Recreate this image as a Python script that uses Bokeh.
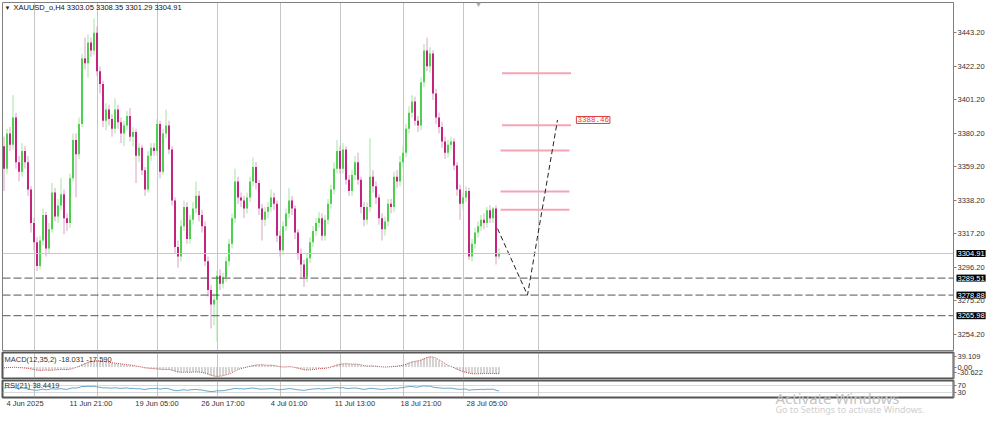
from bokeh.plotting import figure
from bokeh.models import Range1d, FixedTicker, Span, Label, ColumnDataSource, NumeralTickFormatter
from bokeh.layouts import column
from bokeh.embed import file_html
from bokeh.resources import INLINE

# ---------------- data ----------------
symbol_title = "XAUUSD_o,H4  3303.05 3308.35 3301.29 3304.91"
first_open = 3372.0
close = [
    3358, 3380, 3373, 3390, 3362, 3356, 3369, 3362, 3345, 3324,
    3312, 3297, 3313, 3329, 3308, 3320, 3343, 3328, 3335, 3342,
    3327, 3324, 3352, 3376, 3367, 3386, 3427, 3424, 3437, 3432,
    3443, 3419, 3411, 3388, 3395, 3389, 3383, 3395, 3387, 3380,
    3385, 3391, 3378, 3381, 3366, 3371, 3357, 3345, 3366, 3371,
    3369, 3386, 3356, 3380, 3385, 3370, 3338, 3309, 3303, 3322,
    3334, 3314, 3326, 3333, 3341, 3329, 3322, 3300, 3282, 3273,
    3276, 3291, 3286, 3290, 3300, 3311, 3327, 3350, 3340, 3338,
    3333, 3340, 3350, 3359, 3349, 3333, 3326, 3331, 3334, 3340,
    3336, 3316, 3307, 3322, 3330, 3338, 3333, 3318, 3305, 3298,
    3290, 3302, 3312, 3319, 3324, 3327, 3316, 3326, 3336, 3345,
    3358, 3369, 3358, 3370, 3351, 3344, 3354, 3362, 3351, 3334,
    3326, 3334, 3353, 3347, 3340, 3327, 3320, 3325, 3336, 3334,
    3353, 3350, 3362, 3368, 3383, 3393, 3400, 3388, 3385, 3412,
    3432, 3422, 3430, 3405, 3390, 3384, 3375, 3368, 3373, 3375,
    3360, 3345, 3336, 3340, 3344, 3303, 3311, 3318, 3322, 3326,
    3324, 3332, 3327, 3333, 3303.05, 3304.91]
high = [
    3378, 3383, 3384, 3404, 3393, 3366, 3374, 3372, 3366, 3347,
    3327, 3315, 3316, 3333, 3331, 3324, 3349, 3346, 3339, 3352,
    3345, 3330, 3355, 3380, 3380, 3390, 3430, 3440, 3442, 3440,
    3452, 3447, 3422, 3413, 3399, 3398, 3392, 3402, 3398, 3390,
    3388, 3394, 3396, 3384, 3383, 3374, 3373, 3359, 3369, 3374,
    3374, 3389, 3388, 3383, 3395, 3388, 3372, 3340, 3313, 3326,
    3338, 3337, 3329, 3337, 3350, 3344, 3332, 3325, 3303, 3285,
    3280, 3294, 3295, 3293, 3303, 3314, 3330, 3358, 3353, 3343,
    3341, 3343, 3353, 3365, 3362, 3351, 3336, 3334, 3337, 3345,
    3343, 3338, 3319, 3325, 3333, 3346, 3341, 3335, 3320, 3308,
    3301, 3305, 3315, 3322, 3327, 3331, 3330, 3329, 3339, 3348,
    3362, 3376, 3372, 3374, 3372, 3354, 3357, 3366, 3368, 3353,
    3337, 3337, 3377, 3357, 3350, 3342, 3330, 3328, 3339, 3339,
    3356, 3357, 3366, 3372, 3386, 3397, 3404, 3403, 3391, 3415,
    3436, 3440, 3434, 3432, 3408, 3393, 3387, 3378, 3376, 3378,
    3377, 3362, 3348, 3343, 3347, 3346, 3314, 3321, 3325, 3329,
    3330, 3334, 3335, 3334, 3335, 3308.35]
low = [
    3344, 3355, 3369, 3370, 3358, 3350, 3353, 3358, 3341, 3318,
    3307, 3294, 3295, 3310, 3303, 3305, 3318, 3325, 3324, 3332,
    3317, 3319, 3321, 3350, 3340, 3364, 3384, 3420, 3415, 3428,
    3429, 3416, 3405, 3384, 3382, 3385, 3378, 3380, 3383, 3374,
    3372, 3382, 3375, 3372, 3349, 3362, 3354, 3341, 3343, 3363,
    3366, 3366, 3352, 3354, 3377, 3367, 3335, 3305, 3296, 3300,
    3319, 3311, 3311, 3323, 3330, 3325, 3318, 3297, 3278, 3258,
    3260, 3250, 3282, 3283, 3287, 3297, 3308, 3324, 3336, 3334,
    3327, 3330, 3337, 3347, 3345, 3329, 3313, 3322, 3327, 3331,
    3332, 3312, 3303, 3304, 3319, 3327, 3329, 3314, 3301, 3290,
    3284, 3287, 3299, 3309, 3316, 3321, 3313, 3313, 3323, 3333,
    3342, 3355, 3355, 3355, 3348, 3341, 3341, 3351, 3348, 3330,
    3322, 3323, 3331, 3343, 3336, 3323, 3313, 3316, 3322, 3330,
    3331, 3346, 3347, 3359, 3365, 3380, 3390, 3385, 3381, 3382,
    3409, 3419, 3418, 3401, 3386, 3380, 3371, 3364, 3365, 3370,
    3357, 3341, 3326, 3332, 3337, 3301, 3300, 3308, 3315, 3319,
    3320, 3321, 3324, 3324, 3298, 3301.29]

macd_main = [
    -2, -1, -1, 0, -1, -2, -2, -3, -4, -6, -7,
    -9, -9, -8, -8, -9, -8, -7, -7, -6, -7, -7, -5,
    -2, 0, 3, 8, 11, 14, 15, 17, 17,
    17, 15, 14, 12, 11, 10, 9, 8, 7, 6, 5,
    4, 2, 1, -1, -3, -3, -4, -5, -5, -6, -7, -6,
    -7, -9, -12, -14, -14, -13, -14, -14, -13, -13, -14, -15, -17, -20, -23, -25, -25,
    -24, -22, -20, -17, -13, -8, -5, -3, -1, 1, 3, 5, 6, 6,
    6, 5, 5, 5, 4, 2, 0, 0, 1, 1, 0, -2, -4, -6, -8, -8, -7,
    -6, -5, -4, -4, -3, -1, 1, 4, 7, 8, 9, 9, 8,
    8, 8, 7, 5, 3, 3, 3, 3, 2, 1, 0, 0,
    1, 1, 2, 3, 4, 6, 9, 12, 15, 16, 17, 20, 24, 27,
    28, 26, 22, 17, 12, 7, 3, 0, -3, -7, -11, -13, -15, -17,
    -18, -18, -18, -17, -17, -17, -17, -17, -18, -18.031]
macd_signal = [
    -2, -1.5, -1, -0.5, -0.5, -1.5, -2, -2.5, -3.5, -5, -6.5,
    -8, -9, -8.5, -8, -8.5, -8.5, -7.5, -7, -6.5, -6.5, -7, -6,
    -3.5, -1, 1.5, 5.5, 9.5, 12.5, 14.5, 16, 17,
    17, 16, 14.5, 13, 11.5, 10.5, 9.5, 8.5, 7.5, 6.5, 5.5,
    4.5, 3, 1.5, 0, -2, -3, -3.5, -4.5, -5, -5.5, -6.5, -6.5,
    -6.5, -8, -10.5, -13, -14, -13.5, -13.5, -14, -13.5, -13, -13.5, -14.5, -16, -18.5, -21.5, -24, -25,
    -24.5, -23, -21, -18.5, -15, -10.5, -6.5, -4, -2, 0, 2, 4, 5.5, 6,
    6, 5.5, 5, 5, 4.5, 3, 1, 0, 0.5, 1, 0.5, -1, -3, -5, -7, -8, -7.5,
    -6.5, -5.5, -4.5, -4, -3.5, -2, 0, 2.5, 5.5, 7.5, 8.5, 9, 8.5,
    8, 8, 7.5, 6, 4, 3, 3, 3, 2.5, 1.5, 0.5, 0,
    0.5, 1, 1.5, 2.5, 3.5, 5, 7.5, 10.5, 13.5, 15.5, 16.5, 18.5, 22, 25.5,
    27.5, 27, 24, 19.5, 14.5, 9.5, 5, 1.5, -1.5, -5, -9, -12, -14, -16,
    -17.5, -18, -18, -17.5, -17, -17, -17, -17, -17.5, -17.59]
rsi = [
    55, 58, 57, 60, 54, 53, 56, 54, 50, 46,
    44, 42, 46, 49, 45, 48, 52, 49, 50, 52,
    49, 48, 53, 57, 55, 59, 65, 64, 66, 65,
    67, 62, 60, 56, 57, 56, 55, 57, 55, 54,
    55, 56, 53, 54, 51, 52, 49, 47, 51, 52,
    52, 55, 49, 53, 54, 51, 45, 41, 40, 44,
    46, 42, 45, 46, 48, 45, 44, 40, 37, 35,
    36, 40, 39, 40, 43, 46, 50, 54, 52, 51,
    50, 52, 54, 56, 53, 50, 49, 50, 51, 52,
    51, 47, 45, 48, 50, 52, 51, 48, 45, 44,
    42, 45, 48, 50, 51, 52, 49, 51, 53, 55,
    57, 59, 56, 58, 54, 53, 55, 56, 54, 50,
    48, 50, 54, 53, 51, 49, 48, 49, 52, 51,
    55, 54, 57, 58, 62, 64, 65, 62, 61, 66,
    69, 66, 67, 61, 58, 57, 55, 54, 55, 55,
    52, 49, 48, 49, 50, 43, 45, 46, 47, 48,
    47, 49, 48, 49, 43, 38.4419]

price_ticks = [3254.20, 3275.20, 3296.20, 3317.20, 3338.20, 3359.20, 3380.20, 3401.20, 3422.20, 3443.20]
time_tick_bars = [0, 22, 44, 66, 88, 110, 132, 154]
time_tick_labels = ["4 Jun 2025", "11 Jun 21:00", "19 Jun 05:00", "26 Jun 17:00",
                    "4 Jul 01:00", "11 Jul 13:00", "18 Jul 21:00", "28 Jul 05:00"]
separator_bars = [10, 31, 51, 71, 92, 112, 133, 153, 178]
current_price = 3304.91
support_levels = [3289.51, 3278.88, 3265.98]
target_levels = [3417.7, 3385.2, 3369.4, 3343.7, 3332.2]
target_start = [166, 166, 165.5, 165.5, 165.5]
target_end = [189, 189, 188.5, 188.5, 188.5]
projection_x = [164.5, 174.5, 184.5]
projection_y = [3320.5, 3278.88, 3388.46]
projection_target = 3388.46
macd_max, macd_min = 39.109, -30.622
macd_text = "MACD(12,35,2) -18.031 -17.590"
rsi_text = "RSI(21) 38.4419"
watermark = ["Activate Windows", "Go to Settings to activate Windows."]

# ---------------- styling / geometry ----------------
W = 993
RB = 40                      # right border holding the price scale
H1, H2, H3 = 351, 28, 36
FONT = "Liberation Sans"
FS = "7.5px"
TXT = "#333333"
BULL, BEAR = "#4fcf4f", "#c2247f"
BULL_W, BEAR_W = "#a3e3a3", "#d9a0c6"
Y_LO, Y_HI = 3244.2, 3461.97

n = len(close)
bars = list(range(n))
opens = [first_open] + close[:-1]
is_up = [c >= o for o, c in zip(opens, close)]
src = ColumnDataSource(dict(
    x=bars, h=high, l=low,
    top=[max(o, c) for o, c in zip(opens, close)],
    bottom=[min(o, c) for o, c in zip(opens, close)],
    body=[BULL if u else BEAR for u in is_up],
    wick=[BULL_W if u else BEAR_W for u in is_up],
))

xr = Range1d(-0.5, 316.5)


def style_y(ax):
    ax.axis_line_color = "#808080"
    ax.major_tick_line_color = "#808080"
    ax.major_tick_out = 3
    ax.major_tick_in = 0
    ax.minor_tick_line_color = None
    ax.major_label_text_font = FONT
    ax.major_label_text_font_size = FS
    ax.major_label_text_color = TXT
    ax.major_label_standoff = 1


def style_xgrid(p):
    p.xgrid.ticker = FixedTicker(ticks=separator_bars)
    p.xgrid.grid_line_color = "#8c8c8c"
    p.xgrid.grid_line_dash = "1 1"


# ---- main price panel ----
p1 = figure(width=W, height=H1, x_range=xr, y_range=Range1d(Y_LO, Y_HI),
            output_backend="svg", toolbar_location=None, x_axis_location=None,
            y_axis_location="right", min_border_left=2, min_border_right=RB,
            min_border_top=2, min_border_bottom=1)
p1.outline_line_color = "#7f7f7f"
p1.ygrid.visible = False
style_xgrid(p1)
style_y(p1.yaxis[0])
p1.yaxis[0].ticker = FixedTicker(ticks=price_ticks)
p1.yaxis[0].formatter = NumeralTickFormatter(format="0.00")

p1.add_layout(Span(location=current_price, dimension="width", line_color="#c8c8c8", line_width=1))
for lv in support_levels:
    p1.add_layout(Span(location=lv, dimension="width", line_color="#555555",
                       line_width=1, line_dash="8 3"))

p1.segment(x0="x", y0="h", x1="x", y1="l", line_color="wick", line_width=1, source=src)
p1.vbar(x="x", width=0.67, top="top", bottom="bottom", fill_color="body",
        line_color=None, source=src)

p1.segment(x0=target_start, y0=target_levels, x1=target_end, y1=target_levels,
           line_color="#f5a3b5", line_width=2)
p1.line(projection_x, projection_y, line_color="#222222", line_width=1, line_dash="5 3")

p1.add_layout(Label(x=190.8, y=projection_target, text=f"{projection_target:.2f}",
                    text_color="#e03c3c", text_font="Liberation Mono", text_font_size=FS,
                    text_baseline="middle", text_align="left",
                    background_fill_color="white", border_line_color="#e03c3c", padding=1))

p1.add_layout(Label(x=2, y=343, x_units="screen", y_units="screen", text="\u25bc",
                    text_font=FONT, text_font_size="6px", text_color="#222222",
                    text_baseline="middle"))
p1.add_layout(Label(x=11, y=343, x_units="screen", y_units="screen", text=symbol_title,
                    text_font=FONT, text_font_size=FS, text_color="#111111",
                    text_baseline="middle"))
p1.add_layout(Label(x=472, y=346, x_units="screen", y_units="screen", text="\u25bc",
                    text_font=FONT, text_font_size="8px", text_color="#a8a8a8",
                    text_baseline="middle"))

# ---- MACD panel ----
p2 = figure(width=W, height=H2, x_range=xr, y_range=Range1d(macd_min, macd_max),
            output_backend="svg", toolbar_location=None, x_axis_location=None,
            y_axis_location="right", min_border_left=2, min_border_right=RB,
            min_border_top=1, min_border_bottom=1)
p2.outline_line_color = "#555555"
p2.outline_line_width = 2
p2.ygrid.visible = False
style_xgrid(p2)
style_y(p2.yaxis[0])
span = macd_max - macd_min
t_top = macd_max - span * 4 / 26
t_bot = macd_min + span * 6 / 26
p2.yaxis[0].ticker = FixedTicker(ticks=[t_top, 0, t_bot])
p2.yaxis[0].major_label_overrides = {t_top: f"{macd_max:.3f}", 0: "0.00", t_bot: f"{macd_min:.3f}"}
p2.segment(x0=bars, y0=[0] * n, x1=bars, y1=macd_main, line_color="#a9a9a9", line_width=1)
p2.line(bars, macd_signal, line_color="#c0504d", line_width=1, line_dash="1 1")
p2.add_layout(Label(x=2, y=19, x_units="screen", y_units="screen", text=macd_text,
                    text_font=FONT, text_font_size=FS, text_color=TXT, text_baseline="middle"))

# ---- RSI panel + time axis ----
p3 = figure(width=W, height=H3, x_range=xr, y_range=Range1d(0, 100),
            output_backend="svg", toolbar_location=None, y_axis_location="right",
            min_border_left=2, min_border_right=RB, min_border_top=1, min_border_bottom=18)
p3.outline_line_color = "#555555"
p3.outline_line_width = 2
style_xgrid(p3)
p3.ygrid.ticker = FixedTicker(ticks=[70, 30])
p3.ygrid.grid_line_color = "#b4b4b4"
p3.ygrid.grid_line_dash = "1 1"
style_y(p3.yaxis[0])
p3.yaxis[0].ticker = FixedTicker(ticks=[70, 30])
p3.line(bars, rsi, line_color="#6aa8cc", line_width=1)
p3.add_layout(Label(x=2, y=12, x_units="screen", y_units="screen", text=rsi_text,
                    text_font=FONT, text_font_size=FS, text_color=TXT, text_baseline="middle"))
label_ticks = [b + 7 for b in time_tick_bars]
xa = p3.xaxis[0]
xa.ticker = FixedTicker(ticks=label_ticks)
xa.major_label_overrides = {t: s for t, s in zip(label_ticks, time_tick_labels)}
xa.axis_line_color = None
xa.major_tick_line_color = None
xa.major_tick_out = 0
xa.major_tick_in = 0
xa.minor_tick_line_color = None
xa.minor_tick_out = 0
xa.major_label_standoff = 1
xa.major_label_text_font = FONT
xa.major_label_text_font_size = FS
xa.major_label_text_color = TXT

# ---- transparent overlay (separate root) covering the page: price boxes on the scale + watermark ----
HT = H1 + H2 + H3
px_per_unit = (H1 - 3) / (Y_HI - Y_LO)
ov_top = Y_HI + 2 / px_per_unit
ov_bot = ov_top - HT / px_per_unit
ov = figure(width=W, height=HT, x_range=Range1d(0, W), y_range=Range1d(ov_bot, ov_top),
            output_backend="svg", toolbar_location=None, x_axis_location=None,
            y_axis_location=None, min_border=0, background_fill_color=None,
            border_fill_color=None, outline_line_color=None, margin=(-HT, 0, 0, 0))
ov.xgrid.visible = False
ov.ygrid.visible = False
for lv in [current_price] + support_levels:
    ov.add_layout(Label(x=W - RB + 3, y=lv, text=f"{lv:.2f}", text_color="white",
                        text_font=FONT, text_font_size=FS, text_baseline="middle",
                        text_align="left", background_fill_color="#000000", padding=1))
ov.add_layout(Label(x=775, y=HT - 397, x_units="screen", y_units="screen", text=watermark[0],
                    text_font="Noto Sans", text_font_size="15px", text_color="#c4c4c4",
                    text_baseline="middle"))
ov.add_layout(Label(x=775, y=HT - 409, x_units="screen", y_units="screen", text=watermark[1],
                    text_font="Noto Sans", text_font_size="9px", text_color="#cfcfcf",
                    text_baseline="middle"))

main = column(p1, p2, p3)
open("out.html", "w").write(file_html([main, ov], INLINE))
